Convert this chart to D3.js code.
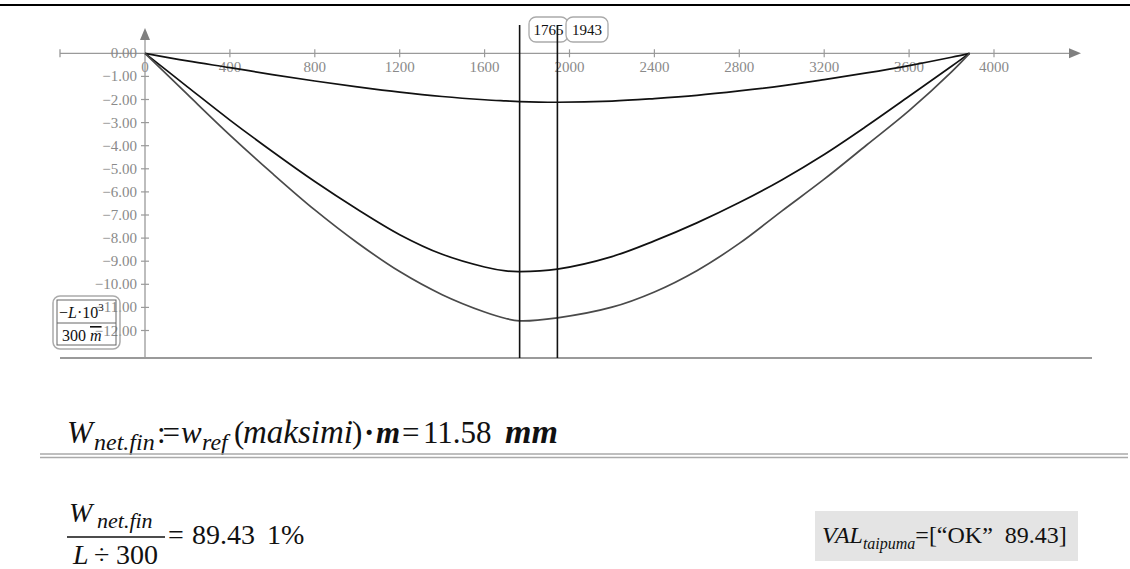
<!DOCTYPE html>
<html><head><meta charset="utf-8">
<script src="https://cdn.jsdelivr.net/npm/d3@7"></script>
<style>
html,body{margin:0;padding:0;background:#fff;}
svg{display:block;}
</style></head>
<body>
<script>
// ---- data ----
const xs      = [0, 200, 400, 600, 800, 1000, 1200, 1400, 1600, 1700, 1765, 1943, 2200, 2400, 2600, 2800, 3000, 3200, 3400, 3600, 3800, 3885];
const wInst   = [0, -0.33, -0.62, -0.92, -1.2, -1.45, -1.68, -1.87, -2.01, -2.06, -2.09, -2.12, -2.07, -1.96, -1.82, -1.63, -1.41, -1.14, -0.85, -0.53, -0.17, 0];
const wFin    = [0, -1.45, -2.89, -4.25, -5.55, -6.75, -7.85, -8.7, -9.25, -9.42, -9.45, -9.34, -8.8, -8.12, -7.34, -6.46, -5.48, -4.38, -3.15, -1.86, -0.56, 0];
const wNetFin = [0, -1.78, -3.54, -5.2, -6.78, -8.2, -9.45, -10.45, -11.2, -11.48, -11.58, -11.45, -10.99, -10.33, -9.41, -8.23, -6.83, -5.45, -3.97, -2.48, -0.8, 0];
const markers = [1765, 1943];
const xTicks  = [400, 800, 1200, 1600, 2000, 2400, 2800, 3200, 3600, 4000];
const yTicks  = [0, -1, -2, -3, -4, -5, -6, -7, -8, -9, -10, -11, -12];

const W = 1130, H = 569;
const FONT = "'Liberation Serif','Times New Roman','DejaVu Serif',serif";
const svg = d3.select("body").append("svg").attr("width", W).attr("height", H)
  .attr("font-family", FONT);

const x = d3.scaleLinear().domain([0, 4000]).range([145, 994]);
const y = d3.scaleLinear().domain([0, -12]).range([53.3, 330.5]);
const axisCol = "#9a9a9a";

// frame
svg.append("line").attr("x1",0).attr("x2",W).attr("y1",5).attr("y2",5).attr("stroke","#000").attr("stroke-width",2);

// bottom line of plot
svg.append("line").attr("x1",60).attr("x2",1092).attr("y1",358).attr("y2",358).attr("stroke",axisCol).attr("stroke-width",2);

// x axis line
svg.append("line").attr("x1",60).attr("x2",1072).attr("y1",y(0)).attr("y2",y(0)).attr("stroke",axisCol).attr("stroke-width",1.3);
svg.append("path").attr("d",`M1081,${y(0)} L1069,${y(0)-5} L1069,${y(0)+5} Z`).attr("fill","#808080");
svg.append("line").attr("x1",60).attr("x2",60).attr("y1",y(0)-4).attr("y2",y(0)+4).attr("stroke",axisCol).attr("stroke-width",1.3);
// y axis line
svg.append("line").attr("x1",x(0)).attr("x2",x(0)).attr("y1",358).attr("y2",38).attr("stroke",axisCol).attr("stroke-width",1.3);
svg.append("path").attr("d",`M${x(0)},28 L${x(0)-5},40 L${x(0)+5},40 Z`).attr("fill","#808080");

// x ticks
const xa = svg.append("g");
xTicks.forEach(t=>{
  xa.append("line").attr("x1",x(t)).attr("x2",x(t)).attr("y1",y(0)-4).attr("y2",y(0)+4).attr("stroke",axisCol).attr("stroke-width",1.2);
  xa.append("text").attr("x",x(t)).attr("y",72).attr("text-anchor","middle").attr("font-size",15).attr("fill","#8a8a8a").text(t);
});
xa.append("text").attr("x",x(0)).attr("y",72).attr("text-anchor","middle").attr("font-size",15).attr("fill","#8a8a8a").text("0");

// y ticks
const ya = svg.append("g");
yTicks.forEach(t=>{
  if (t!==0) ya.append("line").attr("x1",x(0)-4).attr("x2",x(0)+4).attr("y1",y(t)).attr("y2",y(t)).attr("stroke",axisCol).attr("stroke-width",1.2);
  ya.append("text").attr("x",137).attr("y",y(t)+5).attr("text-anchor","end").attr("font-size",15).attr("fill","#8a8a8a")
    .text((t<0?"\u2212":"")+Math.abs(t).toFixed(2));
});

// curves
const line = d3.line().x(d=>x(d[0])).y(d=>y(d[1])).curve(d3.curveCatmullRom.alpha(0.5));
const series = [[wInst,"#111"],[wFin,"#111"],[wNetFin,"#4a4a4a"]];
series.forEach(([vals,col])=>{
  svg.append("path").datum(xs.map((v,i)=>[v,vals[i]])).attr("d",line)
    .attr("fill","none").attr("stroke",col).attr("stroke-width",1.7);
});

// marker labels
const mk = [[1765,529,568],[1943,566,608]];
mk.forEach(([v,a,b])=>{
  svg.append("rect").attr("x",a).attr("y",17).attr("width",b-a).attr("height",25).attr("rx",7)
    .attr("fill","#fff").attr("stroke","#aaa").attr("stroke-width",1.3);
  svg.append("text").attr("x",(a+b)/2).attr("y",35).attr("text-anchor","middle").attr("font-size",15).attr("fill","#111").text(v);
});
markers.forEach(v=>{
  svg.append("line").attr("x1",x(v)).attr("x2",x(v)).attr("y1",25).attr("y2",358).attr("stroke","#111").attr("stroke-width",1.6);
});

// legend box (y expression)
svg.append("rect").attr("x",53).attr("y",296).attr("width",67).attr("height",53).attr("rx",7)
  .attr("fill","none").attr("stroke","#aaa").attr("stroke-width",1.5);
svg.append("rect").attr("x",57).attr("y",300).attr("width",59).attr("height",45)
  .attr("fill","none").attr("stroke","#666").attr("stroke-width",1);
svg.append("line").attr("x1",57).attr("x2",116).attr("y1",323).attr("y2",323).attr("stroke","#666").attr("stroke-width",1);
const lt = svg.append("text").attr("x",59).attr("y",318).attr("font-size",16).attr("fill","#111");
lt.append("tspan").text("\u2212");
lt.append("tspan").attr("font-style","italic").text("L");
lt.append("tspan").text("\u00B710");
lt.append("tspan").attr("font-size",11).attr("dy",-7).text("3");
const lb = svg.append("text").attr("x",62).attr("y",341).attr("font-size",16).attr("fill","#111");
lb.append("tspan").text("300 ");
lb.append("tspan").attr("font-style","italic").attr("text-decoration","overline").text("m");

// main formula (baseline 443)
const f = svg.append("text").attr("y",443).attr("font-size",31).attr("fill","#111");
function piece(sel, xx, txt, opts={}){
  const t = sel.append("tspan").attr("x",xx).text(txt);
  if (opts.it) t.attr("font-style","italic");
  if (opts.b) t.attr("font-weight","bold");
  if (opts.fs) t.attr("font-size",opts.fs);
  if (opts.dy) t.attr("dy",opts.dy);
  if (opts.ls) t.attr("letter-spacing",opts.ls);
  return t;
}
piece(f, 67, "W", {it:1});
piece(f, 94, "net.fin", {it:1, fs:24, dy:7});
piece(f, 157, ":=", {dy:-7, ls:-3});
piece(f, 181, "w", {it:1});
piece(f, 202, "ref", {it:1, fs:24, dy:7});
piece(f, 234, "(", {dy:-7});
piece(f, 243, "maksimi", {it:1, fs:33});
piece(f, 352, ")");
piece(f, 364, "\u00B7", {b:1});
piece(f, 376, "m", {it:1, b:1});
piece(f, 402, "=");
piece(f, 423, "11.58");
piece(f, 505, "mm", {it:1, b:1, fs:34});

// separator
svg.append("line").attr("x1",40).attr("x2",1128).attr("y1",454).attr("y2",454).attr("stroke","#aaa").attr("stroke-width",1.5);
svg.append("line").attr("x1",40).attr("x2",1128).attr("y1",457.5).attr("y2",457.5).attr("stroke","#aaa").attr("stroke-width",1.5);

// fraction
const num = svg.append("text").attr("y",522).attr("font-size",28).attr("fill","#111");
piece(num, 69, "W", {it:1});
piece(num, 97, "net.fin", {it:1, fs:22, dy:6});
svg.append("line").attr("x1",67).attr("x2",165).attr("y1",537).attr("y2",537).attr("stroke","#111").attr("stroke-width",1.5);
const den = svg.append("text").attr("y",564).attr("font-size",28).attr("fill","#111");
piece(den, 73, "L", {it:1});
piece(den, 94, "\u00F7");
piece(den, 116, "300");
const eq = svg.append("text").attr("y",544).attr("font-size",28).attr("fill","#111");
piece(eq, 168, "=");
piece(eq, 192, "89.43");
piece(eq, 267, "1%");

// VAL box
svg.append("rect").attr("x",815).attr("y",511).attr("width",263).attr("height",50).attr("fill","#e4e4e4");
const vt = svg.append("text").attr("x",822).attr("y",543).attr("font-size",24).attr("fill","#111");
vt.append("tspan").attr("font-style","italic").text("VAL");
vt.append("tspan").attr("font-style","italic").attr("font-size",16).attr("dy",6).text("taipuma");
vt.append("tspan").attr("dy",-6).text("=[\u201COK\u201D\u00A0\u00A089.43]");
</script>
</body></html>
